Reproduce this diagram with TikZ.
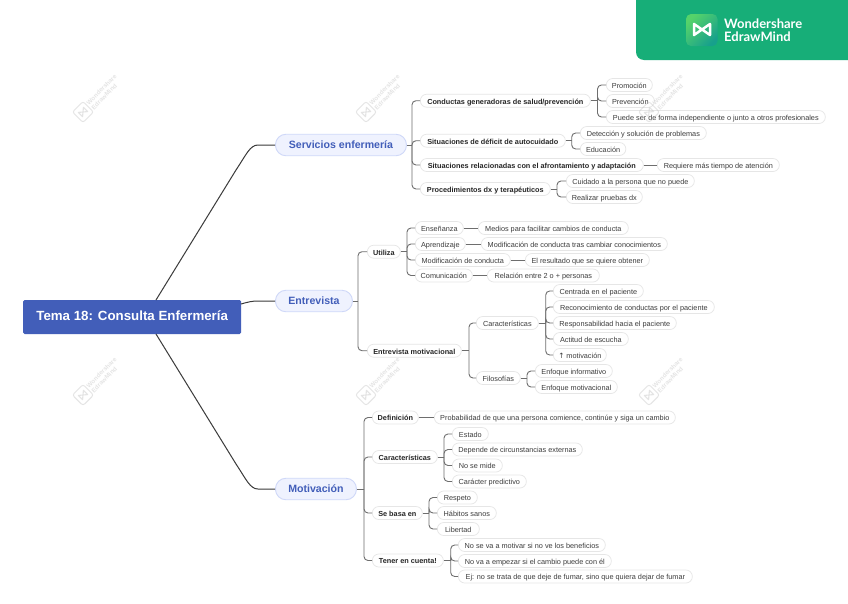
\documentclass[tikz,border=0pt]{standalone}
\usepackage{fontspec}
\setmainfont{Liberation Sans}
\newfontfamily\logofont{Lato}
\newfontfamily\arrowfont{DejaVu Sans}
\usetikzlibrary{calc}
\definecolor{rootblue}{HTML}{425EB9}
\definecolor{mainfill}{HTML}{EFF2FE}
\definecolor{mainedge}{HTML}{CFD8F8}
\definecolor{leafedge}{HTML}{E6E6E6}
\definecolor{leaftext}{HTML}{3C3C3C}
\definecolor{branchgray}{HTML}{6E6E6E}
\definecolor{trunk}{HTML}{3A3A3A}
\definecolor{logogreen}{HTML}{17AE78}
\definecolor{iconA}{HTML}{55D36A}
\definecolor{iconB}{HTML}{17A08C}
\definecolor{wmgray}{HTML}{C4C4C4}
\tikzset{
  rootbox/.style={fill=rootblue,text=white,rounded corners=1.5pt,font=\fontsize{13.3}{16}\selectfont\bfseries,inner sep=0pt,text height=.72em,text depth=0em},
  mainbox/.style={fill=mainfill,draw=mainedge,line width=.9pt,rounded corners=10.5pt,minimum height=21.5pt,text=rootblue,font=\fontsize{10.6}{12}\selectfont\bfseries,inner sep=0pt,text height=.72em,text depth=.05em},
  subbox/.style={fill=white,draw=leafedge,line width=.7pt,rounded corners=6.4pt,minimum height=13pt,text=black!85,font=\fontsize{7.3}{9}\selectfont\bfseries,inner sep=0pt,text height=.72em,text depth=.05em},
  leafbox/.style={fill=white,draw=leafedge,line width=.7pt,rounded corners=6.4pt,minimum height=13pt,text=leaftext,font=\fontsize{7.3}{9}\selectfont,inner sep=0pt,text height=.72em,text depth=.05em},
  branch/.style={draw=branchgray,line width=.9pt},
  trunkline/.style={draw=trunk,line width=1pt,line join=round},
  wmtext/.style={text=wmgray,opacity=.45,font=\fontsize{6.2}{7}\selectfont\bfseries,rotate=45,align=left,inner sep=0pt},
}
% name, style, left, right, y, text
\newcommand{\nd}[6]{\node[#2,anchor=west,minimum width={(#4-#3)*1pt}] (#1) at (#3,#5) {#6};}
% parent, spine x, list of children
\newcommand{\tree}[3]{%
  \coordinate (sp) at (#2,0);
  \draw[branch] (#1.east) -- (#1.east -| sp);
  \foreach \c in {#3} {\draw[branch,rounded corners=4pt] (#1.east -| sp) -- (sp |- \c.west) -- (\c.west);}
}
\newcommand{\wm}[2]{%
  \begin{scope}[shift={(#1,#2)}]
    \begin{scope}[rotate=45]
      \draw[wmgray,opacity=.45,line width=.9pt,rounded corners=2.5pt] (-7.5,-7.5) rectangle (7.5,7.5);
      \draw[wmgray,opacity=.45,line width=1.1pt,line join=round] (-3.6,-3) -- (3.6,3) -- (3.6,-3) -- (-3.6,3) -- cycle;
    \end{scope}
    \node[wmtext] at (21,-20) {Wondershare\\EdrawMind};
  \end{scope}
}
\begin{document}
\begin{tikzpicture}[x=1pt,y=-1pt]
\useasboundingbox (0,0) rectangle (848,603);
\fill[white] (0,0) rectangle (848,603);

% logo
\fill[logogreen,rounded corners=8pt] (636,-12) rectangle (860,60);
\shade[left color=iconA,right color=iconB,shading angle=45,rounded corners=5pt] (686,14) rectangle (717.5,46);
\draw[white,line width=2.5pt,line join=round] (694,24) -- (710,35) -- (710,24) -- (694,35) -- cycle;
\node[anchor=west,text=white,inner sep=0pt,font=\logofont\fontsize{13}{14}\selectfont\bfseries] at (724,23.5) {Wondershare};
\node[anchor=west,text=white,inner sep=0pt,font=\logofont\fontsize{13}{14}\selectfont\bfseries] at (724,36.5) {EdrawMind};

% root and main topics
\nd{root}{rootbox,minimum height=34pt}{23}{241}{317}{Tema 18: Consulta Enfermería}
\nd{serv}{mainbox}{275}{406}{145}{Servicios enfermería}
\nd{entr}{mainbox}{275}{352}{301}{Entrevista}
\nd{moti}{mainbox}{275}{356}{489}{Motivación}

% Servicios
\nd{cond}{subbox}{420}{590}{100.7}{Conductas generadoras de salud/prevención}
\nd{defi}{subbox}{420}{565}{140.7}{Situaciones de déficit de autocuidado}
\nd{situ}{subbox}{420}{643}{165}{Situaciones relacionadas con el afrontamiento y adaptación}
\nd{proc}{subbox}{420}{550}{189}{Procedimientos dx y terapéuticos}
\nd{prom}{leafbox}{606}{652}{85}{Promoción}
\nd{prev}{leafbox}{606}{654}{101}{Prevención}
\nd{pued}{leafbox}{606}{825}{117}{Puede ser de forma independiente o junto a otros profesionales}
\nd{dete}{leafbox}{580}{706}{133}{Detección y solución de problemas}
\nd{educ}{leafbox}{580}{625.5}{149}{Educación}
\nd{requ}{leafbox}{657}{779}{165}{Requiere más tiempo de atención}
\nd{cuid}{leafbox}{566}{694}{181}{Cuidado a la persona que no puede}
\nd{real}{leafbox}{566}{642}{197}{Realizar pruebas dx}

% Entrevista
\nd{util}{subbox}{367}{400}{251.7}{Utiliza}
\nd{emot}{subbox}{367}{461}{350.7}{Entrevista motivacional}
\nd{ense}{leafbox}{415}{463}{228}{Enseñanza}
\nd{medi}{leafbox}{478}{628}{228}{Medios para facilitar cambios de conducta}
\nd{apre}{leafbox}{415}{465}{244}{Aprendizaje}
\nd{modi}{leafbox}{481}{667}{244}{Modificación de conducta tras cambiar conocimientos}
\nd{mcon}{leafbox}{415}{510}{260}{Modificación de conducta}
\nd{resu}{leafbox}{525}{649}{260}{El resultado que se quiere obtener}
\nd{comu}{leafbox}{415}{472}{275.5}{Comunicación}
\nd{rela}{leafbox}{487}{599}{275.5}{Relación entre 2 o + personas}
\nd{cara}{leafbox}{476}{538}{323}{Características}
\nd{filo}{leafbox}{476}{520}{378}{Filosofías}
\nd{cent}{leafbox}{553}{643}{291}{Centrada en el paciente}
\nd{reco}{leafbox}{553}{714}{307}{Reconocimiento de conductas por el paciente}
\nd{resp}{leafbox}{553}{676}{323}{Responsabilidad hacia el paciente}
\nd{acti}{leafbox}{553}{628}{339}{Actitud de escucha}
\nd{umot}{leafbox}{553}{606}{355}{{\arrowfont ↑} motivación}
\nd{einf}{leafbox}{535}{612}{371}{Enfoque informativo}
\nd{emtv}{leafbox}{535}{617}{387}{Enfoque motivacional}

% Motivación
\nd{mdef}{subbox}{372}{418}{417.5}{Definición}
\nd{mcar}{subbox}{372}{437}{457}{Características}
\nd{mbas}{subbox}{372}{422}{513}{Se basa en}
\nd{mten}{subbox}{372}{443}{560.5}{Tener en cuenta!}
\nd{prob}{leafbox}{434}{675}{417.5}{Probabilidad de que una persona comience, continúe y siga un cambio}
\nd{esta}{leafbox}{452}{488}{434}{Estado}
\nd{depe}{leafbox}{452}{582}{449.5}{Depende de circunstancias externas}
\nd{nomi}{leafbox}{452}{502}{465.5}{No se mide}
\nd{cpre}{leafbox}{452}{526}{481.5}{Carácter predictivo}
\nd{rspt}{leafbox}{437}{477}{497.5}{Respeto}
\nd{habi}{leafbox}{437}{496}{513}{Hábitos sanos}
\nd{libe}{leafbox}{437}{479}{529}{Libertad}
\nd{nova}{leafbox}{458}{605}{545}{No se va a motivar si no ve los beneficios}
\nd{nemp}{leafbox}{458}{611}{561}{No va a empezar si el cambio puede con él}
\nd{ejno}{leafbox}{458}{692}{576.5}{Ej: no se trata de que deje de fumar, sino que quiera dejar de fumar}

% trunks
\coordinate (rtop) at (156,300);
\coordinate (rbot) at (156,334);
\coordinate (rside) at (241,304);
\draw[trunkline] (rtop) -- (236,170) .. controls (246,155) and (250,145) .. (258,145) -- (serv.west);
\draw[trunkline] (rbot) -- (236,464) .. controls (246,479) and (250,489) .. (258,489) -- (moti.west);
\draw[trunkline] (rside) .. controls (248,302) and (252,301) .. (258,301) -- (entr.west);

% branches
\tree{serv}{412}{cond,defi,situ,proc}
\tree{cond}{597.5}{prom,prev,pued}
\tree{defi}{571.7}{dete,educ}
\draw[branch] (situ) -- (requ);
\tree{proc}{557}{cuid,real}
\tree{entr}{358}{util,emot}
\tree{util}{407}{ense,apre,mcon,comu}
\draw[branch] (ense) -- (medi);
\draw[branch] (apre) -- (modi);
\draw[branch] (mcon) -- (resu);
\draw[branch] (comu) -- (rela);
\tree{emot}{469}{cara,filo}
\tree{cara}{545.7}{cent,reco,resp,acti,umot}
\tree{filo}{527}{einf,emtv}
\tree{moti}{364}{mdef,mcar,mbas,mten}
\draw[branch] (mdef) -- (prob);
\tree{mcar}{444}{esta,depe,nomi,cpre}
\tree{mbas}{429}{rspt,habi,libe}
\tree{mten}{450.7}{nova,nemp,ejno}

% watermarks
\wm{83}{112}\wm{366}{112}\wm{649}{112}
\wm{83}{395}\wm{366}{395}\wm{649}{395}
\end{tikzpicture}
\end{document}
